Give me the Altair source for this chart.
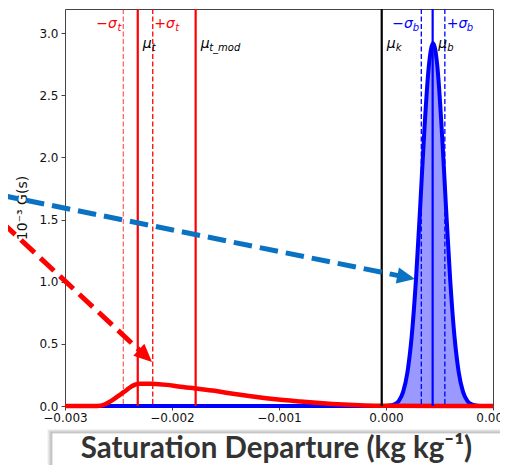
import altair as alt
import pandas as pd

# ---------------- data ----------------
red_x = [-0.003, -0.0027, -0.00263, -0.00258, -0.00253, -0.00249, -0.002455, -0.00242,
         -0.002393, -0.00236, -0.00233, -0.0023, -0.00225, -0.00219, -0.00205, -0.00194,
         -0.001785, -0.0016, -0.00143, -0.00128, -0.00112, -0.00096, -0.0008, -0.00065,
         -0.0005, -0.00035, -0.0002, 0.0, 0.001]
red_y = [0.0, 0.0, 0.012, 0.035, 0.063, 0.088, 0.109, 0.131,
         0.149, 0.166, 0.176, 0.179, 0.18, 0.179, 0.17, 0.157,
         0.141, 0.122, 0.098, 0.08, 0.063, 0.048, 0.036, 0.026,
         0.017, 0.01, 0.005, 0.002, 0.0]

blue_x = [-0.003, 0.0, 0.00004, 0.00008, 0.00012, 0.00016, 0.0002, 0.00024, 0.00028,
          0.00032, 0.00036, 0.0004, 0.00044, 0.00048, 0.00052, 0.00056, 0.0006, 0.00064,
          0.00068, 0.00072, 0.00076, 0.0008, 0.00084, 0.00088, 0.001]
blue_y = [0.0, 0.001, 0.004, 0.014, 0.042, 0.114, 0.270, 0.559, 1.014,
          1.611, 2.241, 2.733, 2.92, 2.733, 2.241, 1.611, 1.014, 0.559,
          0.270, 0.114, 0.042, 0.014, 0.004, 0.001, 0.0]

# vertical marker lines
sig_t_minus = -0.002455
mu_t = -0.00232
sig_t_plus = -0.00218
mu_t_mod = -0.001779
mu_k = -0.00004
sig_b_minus = 0.00033
mu_b = 0.000436
sig_b_plus = 0.00055

# annotation arrows (start x, start y, tip x, tip y) in data units
blue_arrow = [-0.003607, 1.698, 0.000271, 1.022]
red_arrow = [-0.003592, 1.481, -0.002187, 0.354]

x_ticks = [-0.003, -0.002, -0.001, 0.0, 0.001]
y_ticks = [0.0, 0.5, 1.0, 1.5, 2.0, 2.5, 3.0]
y_title = "10⁻³ G(s)"
box_title = "Saturation Departure (kg kg⁻¹)"

# ---------------- scales / axes ----------------
W, H = 428, 397
xs = alt.Scale(domain=[-0.003, 0.001], nice=False, zero=False)
ys = alt.Scale(domain=[0, 3.195], nice=False, zero=False)
xaxis = alt.Axis(values=x_ticks, format=".3f", labelExpr="replace(datum.label, '-', '\u2212')",
                 title=None, domain=False, grid=False, tickSize=4, labelPadding=2,
                 labelFontSize=12, labelFont="DejaVu Sans", labelColor="#111", tickColor="#444",
                 labelFlush=False)
yaxis = alt.Axis(values=y_ticks, format=".1f", title=y_title, domain=False, grid=False,
                 tickSize=4, labelPadding=3, labelFontSize=12, labelFont="DejaVu Sans",
                 labelColor="#111", tickColor="#444", titleFont="DejaVu Sans",
                 titleFontSize=14, titleFontWeight="normal", titleColor="#111",
                 titlePadding=9)


def X(f="x"):
    return alt.X(f"{f}:Q", scale=xs, axis=xaxis)


def Y(f="y"):
    return alt.Y(f"{f}:Q", scale=ys, axis=yaxis)


blue_df = pd.DataFrame({"x": blue_x, "y": blue_y})
red_df = pd.DataFrame({"x": red_x, "y": red_y})

blue_area = alt.Chart(blue_df).mark_area(color="#9999ff", interpolate="monotone", opacity=1).encode(
    x=X(), y=Y())
blue_line = alt.Chart(blue_df).mark_line(color="#0000ff", strokeWidth=4, interpolate="monotone",
                                         clip=False).encode(x=X(), y=Y())
red_line = alt.Chart(red_df).mark_line(color="#ff0000", strokeWidth=4.5, interpolate="monotone",
                                       clip=False).encode(x=X(), y=Y())


def vline(xv, color, width, dash=None, opacity=1.0):
    kw = dict(color=color, strokeWidth=width, opacity=opacity)
    if dash:
        kw["strokeDash"] = dash
    return alt.Chart(pd.DataFrame({"x": [xv]})).mark_rule(**kw).encode(x=X())


rules = [
    vline(sig_t_minus, "#ff0000", 1.3, [5, 2.5], 0.6),
    vline(mu_t, "#ff0000", 2.2),
    vline(sig_t_plus, "#ff0000", 1.3, [5, 2.5]),
    vline(mu_t_mod, "#ff0000", 2.2),
    vline(mu_k, "#000000", 2.2),
    vline(sig_b_minus, "#0000ff", 1.3, [5, 2.5]),
    vline(mu_b, "#0000ff", 2.2),
    vline(sig_b_plus, "#0000ff", 1.3, [5, 2.5]),
]


def label(text, xv, ypx, color, size, align, dx):
    return alt.Chart(pd.DataFrame({"x": [xv], "t": [text]})).mark_text(
        align=align, baseline="alphabetic", dx=dx, fontSize=size, font="DejaVu Sans",
        fontStyle="italic", color=color, clip=False).encode(x=X(), y=alt.value(ypx), text="t:N")


labels = [
    label("\u2212\u03c3", sig_t_minus, 19, "#ff0000", 14, "right", -6.5),
    label("t", sig_t_minus, 21.5, "#ff0000", 10, "right", -2),
    label("+\u03c3", sig_t_plus, 19, "#ff0000", 14, "left", 1.5),
    label("t", sig_t_plus, 21.5, "#ff0000", 10, "left", 22.5),
    label("\u03bc", mu_t, 39, "#000000", 14, "left", 5),
    label("t", mu_t, 42, "#000000", 10, "left", 14),
    label("\u03bc", mu_t_mod, 39, "#000000", 14, "left", 5),
    label("t_mod", mu_t_mod, 42, "#000000", 10, "left", 13.5),
    label("\u03bc", mu_k, 39, "#000000", 14, "left", 5),
    label("k", mu_k, 42, "#000000", 10, "left", 14),
    label("\u03bc", mu_b, 39, "#000000", 14, "left", 5.5),
    label("b", mu_b, 42, "#000000", 10, "left", 14.5),
    label("\u2212\u03c3", sig_b_minus, 19, "#0000ff", 14, "right", -8.5),
    label("b", sig_b_minus, 21.5, "#0000ff", 10, "right", -2.3),
    label("+\u03c3", sig_b_plus, 19, "#0000ff", 14, "left", 2),
    label("b", sig_b_plus, 21.5, "#0000ff", 10, "left", 22),
]


def arrow(a, color, angle):
    sx, sy, tx, ty = a
    # line ends slightly before the tip so the head covers it
    ex = sx + (tx - sx) * 0.96
    ey = sy + (ty - sy) * 0.96
    line = alt.Chart(pd.DataFrame({"x": [sx], "y": [sy], "x2": [ex], "y2": [ey]})).mark_rule(
        color=color, strokeWidth=5, strokeDash=[18.5, 8], clip=False).encode(
        x=X(), y=Y(), x2="x2:Q", y2="y2:Q")
    head = alt.Chart(pd.DataFrame({"x": [tx], "y": [ty]})).mark_point(
        shape="M0,0L-1,-0.45L-1,0.45Z", filled=True, size=1296, angle=angle, color=color,
        opacity=1, strokeWidth=0, clip=False).encode(x=X(), y=Y())
    return [line, head]


arrows = arrow(blue_arrow, "#0a72c2", 11.44) + arrow(red_arrow, "#ff0000", 42.97)

dummy = pd.DataFrame({"t": [box_title]})
shadows = []
for i, op in [(5, 0.04), (4, 0.05), (3, 0.06), (2, 0.07), (1, 0.08)]:
    shadows.append(alt.Chart(dummy).mark_rect(color="#000000", opacity=op, clip=False).encode(
        x=alt.value(-13 - i), x2=alt.value(439 + i * 0.4), y=alt.value(424 - i * 0.8),
        y2=alt.value(480)))
box = alt.Chart(dummy).mark_rect(fill="#ffffff", stroke="#cfcfcf", strokeWidth=1, clip=False).encode(
    x=alt.value(-13), x2=alt.value(438), y=alt.value(424), y2=alt.value(480))
box_text = alt.Chart(dummy).mark_text(align="center", baseline="alphabetic", font="Lato",
                                      fontWeight="bold", fontSize=29.5, color="#333333",
                                      clip=False).encode(
    x=alt.value(211.5), y=alt.value(449), text="t:N")

chart = alt.layer(
    blue_area, blue_line, red_line, *rules, *labels, *arrows, *shadows, box, box_text
).properties(
    width=W, height=H,
    autosize=alt.AutoSizeParams(type="none"),
    padding={"left": 57, "top": 1, "right": 7, "bottom": 59},
).configure_view(stroke="#444444", strokeWidth=1)

chart.save("out.html", embed_options={"renderer": "svg", "actions": False})
